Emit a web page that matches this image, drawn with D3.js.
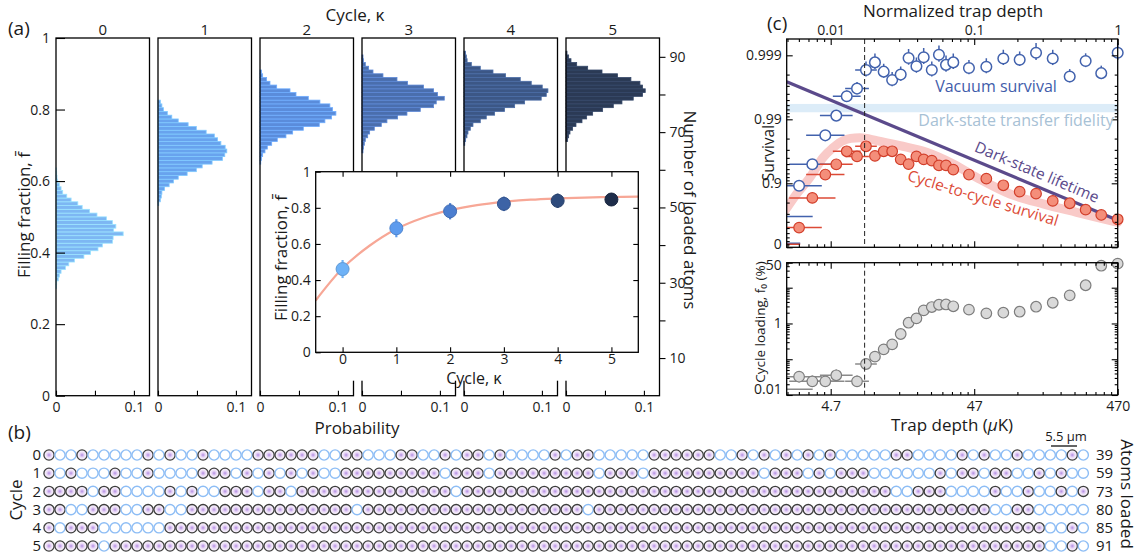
<!DOCTYPE html>
<html lang="en">
<head>
<meta charset="UTF-8" />
<title>Repeated loading of an atom array</title>
<script src="https://d3js.org/d3.v7.min.js"></script>
<style>
  body { margin: 0; background: #fff; }
  svg { display: block; font-family: "Open Sans", "DejaVu Sans", sans-serif; }
  .frame { fill: none; stroke: #000; stroke-width: 1.3; }
  text { fill: #1a1a1a; }
</style>
</head>
<body>
<script>
// ---------------- data: panel (a) ----------------
const cycles = [0, 1, 2, 3, 4, 5];
const nSites = 95;
// histograms of loaded atom number, first bin = histStart[k]
const histStart = [29, 51, 62, 65, 67, 68];
const hist0 = [0.0006, 0.0009, 0.003, 0.0043, 0.0065, 0.0121, 0.0164, 0.0237, 0.0358, 0.0444, 0.0539, 0.0595, 0.0724, 0.0733, 0.0862, 0.074, 0.0768, 0.0724, 0.0647, 0.0526, 0.0431, 0.0336, 0.028, 0.0194, 0.0138, 0.0086, 0.0065, 0.0043, 0.002, 0.0013, 0.0009, 0.0004];
const hist1 = [0.001, 0.003, 0.0042, 0.005, 0.0084, 0.0143, 0.0198, 0.026, 0.0374, 0.0492, 0.0567, 0.0694, 0.0828, 0.0857, 0.0883, 0.0862, 0.0807, 0.0765, 0.0723, 0.0618, 0.0492, 0.0387, 0.026, 0.0177, 0.012, 0.007, 0.005, 0.003];
const hist2 = [0.001, 0.002, 0.0034, 0.0064, 0.0094, 0.015, 0.0222, 0.0333, 0.0419, 0.0556, 0.0761, 0.0833, 0.0919, 0.0974, 0.0932, 0.0897, 0.0769, 0.062, 0.0462, 0.0385, 0.0214, 0.0128, 0.0085, 0.0034, 0.002];
const hist3 = [0.0013, 0.002, 0.003, 0.0043, 0.0073, 0.0098, 0.0158, 0.0248, 0.032, 0.0457, 0.0577, 0.0748, 0.0919, 0.0953, 0.1056, 0.097, 0.0919, 0.079, 0.0585, 0.0449, 0.0269, 0.0141, 0.0085, 0.0043, 0.002, 0.0013];
const hist4 = [0.001, 0.0021, 0.0038, 0.0051, 0.0081, 0.0115, 0.0209, 0.0286, 0.0393, 0.0521, 0.065, 0.0778, 0.0991, 0.1056, 0.1077, 0.1004, 0.0863, 0.0722, 0.0534, 0.0372, 0.0209, 0.0094, 0.004, 0.003, 0.002];
const hist5 = [0.0021, 0.0034, 0.0051, 0.0085, 0.0128, 0.0205, 0.0265, 0.0342, 0.047, 0.0607, 0.0718, 0.0863, 0.0983, 0.1017, 0.0983, 0.0949, 0.0833, 0.0662, 0.0462, 0.0278, 0.0137, 0.0064, 0.0034, 0.0013];
// inset: mean filling fraction per cycle and fit
const fillMean = [0.461, 0.687, 0.781, 0.822, 0.839, 0.846];
const fillErr = [0.05, 0.05, 0.045, 0.04, 0.04, 0.035];
const fitCycle = [-0.5, 0, 0.5, 1, 1.5, 2, 2.5, 3, 3.5, 4, 4.5, 5, 5.5];
const fitFill = [0.287, 0.465, 0.59, 0.683, 0.745, 0.787, 0.815, 0.833, 0.845, 0.852, 0.857, 0.86, 0.862];
const atomTicks = [10, 20, 30, 40, 50, 60, 70, 80, 90];

// ---------------- data: panel (b) ----------------
const occupancy = [
  "1001000001 0100100001 1111100110 0011001011 0100001011 0000011111 1001010101 0100000110 0001010010 00010",
  "1010001001 0000111010 1010100111 1111110111 0111111111 0111011111 1111101110 1011100000 0101101100 10100",
  "1111011000 0101001110 1101111111 1111111011 1111111111 1111111111 1111111111 1111111001 1100001001 00101",
  "1100111001 1001111111 1111111101 1111111111 1111111110 1111111111 1111111111 1111111111 1111110011 00000",
  "1011100000 0111111111 1111111111 1111111111 1111111111 1111111111 1111111111 1111111111 1111111111 10010",
  "1111101111 1111111111 1111111111 1111111111 1111111111 1111111111 1111111111 1111111111 1111111111 10010"
];
const atomsLoaded = [39, 59, 73, 80, 85, 91];

// ---------------- data: panel (c) ----------------
const depth = [2.83, 3.5, 4.31, 5.14, 6.08, 7.17, 8.28, 9.56, 11.0, 12.6, 14.45, 16.4, 18.6, 20.9, 23.8, 26.7, 29.9, 33.6, 43.2, 57.1, 75, 97.5, 126.8, 165.7, 217.6, 281, 361, 470];
const depthErr = [1.44, 1.45, 1.36, 1.3, 1.25, 1.21, 1.19, 1, 1, 1, 1, 1, 1, 1, 1, 1, 1, 1, 1, 1, 1, 1, 1, 1, 1, 1, 1, 1];
const vacuum = [0.891, 0.9495, 0.9822, 0.99125, 0.99564, 0.99669, 0.9983, 0.99871, 0.9982, 0.99757, 0.998, 0.9989, 0.99852, 0.99893, 0.9983, 0.99902, 0.99859, 0.99871, 0.99842, 0.99849, 0.99888, 0.99883, 0.99909, 0.99888, 0.99786, 0.99877, 0.9981, 0.99909];
const vacuumErr = [0, 0, 0, 0, 0.0008, 0.0007, 0.00045, 0.00035, 0.00045, 0.0006, 0.0005, 0.0003, 0.0004, 0.0003, 0.00045, 0.00028, 0.0004, 0.00035, 0.0004, 0.0004, 0.0003, 0.0003, 0.00027, 0.0003, 0.0005, 0.0003, 0.00045, 0.00027];
const cycleSurvival = [0.508, 0.831, 0.927, 0.9495, 0.9684, 0.962, 0.9736, 0.9627, 0.9684, 0.9684, 0.9578, 0.9499, 0.962, 0.9578, 0.9558, 0.9475, 0.9475, 0.9389, 0.927, 0.9155, 0.8926, 0.865, 0.855, 0.8116, 0.795, 0.742, 0.688, 0.635];
const loading = [0.0325, 0.0241, 0.0241, 0.0356, null, 0.0241, 0.0736, 0.118, 0.189, 0.261, 0.507, 1.05, 1.39, 2.33, 2.88, 3.34, 3.4, 3.02, 2.43, 1.92, 2.0, 2.13, 2.94, 3.8, 6.12, 11.7, 41.2, 46.9];
const loadingErr = [1.45, 1.45, 1.45, 1.45, 1, 1.45, 1, 1, 1, 1, 1, 1, 1, 1, 1, 1, 1, 1, 1, 1, 1, 1, 1, 1, 1, 1, 1, 1];
// points whose centres fall left of the axis (only their error bars show)
const edgeDepth = [2.2, 1.8];
const edgeVacuum = [0.669, 0.134];
const edgeCycle = [null, 0.103];
const edgeLoading = [0.0144, null];
const edgeErr = [1.6, 1.6];
// model curves
const lifetimeDepth = [2.32, 470];
const lifetimeSurvival = [0.99742, 0.6216];
const modelDepth = [2.26, 2.72, 3.37, 4.17, 4.78, 5.75, 7.52, 9.83, 14.3, 21.9, 33.6, 48.9, 83.5, 142, 243, 470];
const modelSurvival = [0.733, 0.853, 0.919, 0.9607, 0.971, 0.9785, 0.9805, 0.9785, 0.9742, 0.9672, 0.95, 0.919, 0.853, 0.79, 0.716, 0.593];
const fidelityBand = [0.99224, 0.99425];
const cutoffDepth = 8.1;
const maxDepth = 470;

// ---------------- setup ----------------
const W = 1141, H = 559;
const FONT = '"Open Sans", "DejaVu Sans", sans-serif';
const svg = d3.select('body').append('svg').attr('width', W).attr('height', H);

function addAxis(axisFn, scale, tx, ty, values, size, fmt, pad) {
  const axis = axisFn(scale).tickValues(values).tickSize(size)
    .tickPadding(pad == null ? 4 : pad).tickFormat(fmt || (() => ''));
  const g = svg.append('g').attr('transform', `translate(${tx},${ty})`).call(axis);
  g.select('.domain').remove();
  g.selectAll('line').attr('stroke', '#000').attr('stroke-width', 1.1);
  g.selectAll('text').attr('font-size', 14).attr('font-family', FONT).attr('fill', '#1a1a1a');
  return g;
}

function label(x, y, txt, size, opts) {
  opts = opts || {};
  const t = svg.append('text')
    .attr('transform', `translate(${x},${y})` + (opts.rotate ? ` rotate(${opts.rotate})` : ''))
    .attr('text-anchor', opts.anchor || 'middle')
    .attr('font-size', size)
    .attr('font-family', FONT)
    .text(txt);
  if (opts.fill) t.style('fill', opts.fill);
  if (opts.dy) t.attr('dy', opts.dy);
  return t;
}

// ---------------- panel (a): histograms ----------------
const fY = d3.scaleLinear().domain([0, 1]).range([395.7, 38]);
const nY = d3.scaleLinear().domain([0, nSites]).range([395.7, 38]);
const panelX = d3.scaleLinear().domain([0, 5]).range([56, 566]);
const panelW = 93.5;
const hists = [hist0, hist1, hist2, hist3, hist4, hist5];
const histColors = ['#7db7f3', '#68a3ee', '#5a8cdb', '#4a6ead', '#3c5786', '#2b3a55'];
const dotColors = ['#6eb2f7', '#5d9bee', '#4b7ed0', '#3d63a6', '#2e4b7c', '#1e2d4a'];

cycles.forEach((k, i) => {
  const x0 = panelX(k);
  const px = d3.scaleLinear().domain([0, 0.12]).range([x0, x0 + panelW]);
  const bins = hists[i].map((p, j) => ({ n: histStart[i] + j, p: p }));
  svg.append('g').selectAll('rect').data(bins).join('rect')
    .attr('x', x0)
    .attr('y', d => fY((d.n + 0.5) / nSites))
    .attr('width', d => px(d.p) - x0)
    .attr('height', d => fY((d.n - 0.5) / nSites) - fY((d.n + 0.5) / nSites))
    .attr('fill', histColors[i])
    .attr('stroke', d3.color(histColors[i]).brighter(0.6))
    .attr('stroke-width', 0.8);
  svg.append('rect').attr('class', 'frame')
    .attr('x', x0).attr('y', fY(1)).attr('width', panelW).attr('height', fY(0) - fY(1));
  label(x0 + panelW / 2, 35, k, 15);
  addAxis(d3.axisBottom, px, 0, fY(0), [0, 0.05, 0.1], -5,
    d => d === 0 ? '0' : d === 0.1 ? '0.1' : '', 6);
});

addAxis(d3.axisLeft, fY, panelX(0), 0, [0, 0.2, 0.4, 0.6, 0.8, 1], -9,
  d => d === 0 ? '0' : d === 1 ? '1' : d3.format('.1f')(d), 6);
addAxis(d3.axisRight, nY, panelX(5) + panelW, 0, atomTicks, 6,
  d => (d % 20 === 10 ? d : ''), 4);

label(8, 35, '(a)', 19, { anchor: 'start' });
label(355, 21, 'Cycle, κ', 17);
label(357, 434, 'Probability', 17);
label(24, 215, 'Filling fraction, f\u0304', 17, { rotate: -90, dy: '0.35em' });
label(690, 210, 'Number of loaded atoms', 17, { rotate: 90, dy: '0.35em' });

// ---------------- inset ----------------
const ix = d3.scaleLinear().domain([-0.5, 5.5]).range([315.7, 638.3]);
const iy = d3.scaleLinear().domain([0, 1]).range([352.3, 171.7]);
svg.append('rect').attr('x', 265).attr('y', 171.7).attr('width', 380).attr('height', 209).attr('fill', '#fff');

svg.append('path')
  .datum(fitCycle.map((c, i) => [c, fitFill[i]]))
  .attr('d', d3.line().x(d => ix(d[0])).y(d => iy(d[1])).curve(d3.curveCatmullRom))
  .attr('fill', 'none').attr('stroke', '#f7a796').attr('stroke-width', 2.2);

const inPts = svg.append('g').selectAll('g').data(cycles).join('g');
inPts.append('line')
  .attr('x1', d => ix(d)).attr('x2', d => ix(d))
  .attr('y1', (d, i) => iy(fillMean[i] - fillErr[i]))
  .attr('y2', (d, i) => iy(fillMean[i] + fillErr[i]))
  .attr('stroke', (d, i) => dotColors[i]).attr('stroke-width', 2.2);
inPts.append('circle')
  .attr('cx', d => ix(d)).attr('cy', (d, i) => iy(fillMean[i])).attr('r', 6.5)
  .attr('fill', (d, i) => dotColors[i])
  .attr('stroke', (d, i) => d3.color(dotColors[i]).darker(0.4)).attr('stroke-width', 1);

svg.append('rect').attr('class', 'frame')
  .attr('x', ix(-0.5)).attr('y', iy(1)).attr('width', ix(5.5) - ix(-0.5)).attr('height', iy(0) - iy(1));
addAxis(d3.axisLeft, iy, ix(-0.5), 0, [0, 0.2, 0.4, 0.6, 0.8, 1], -5,
  d => d === 0 ? '0' : d === 1 ? '1' : d3.format('.1f')(d), 5);
addAxis(d3.axisRight, iy, ix(5.5), 0, [0.2, 0.4, 0.6, 0.8], -5);
addAxis(d3.axisBottom, ix, 0, iy(0), cycles, -5, d => d, 2);
addAxis(d3.axisTop, ix, 0, iy(1), cycles, -5);
label(474, 384, 'Cycle, κ', 16);
label(281, 258, 'Filling fraction, f\u0304', 17, { rotate: -90, dy: '0.35em' });

// ---------------- panel (b): atom images ----------------
const defs = svg.append('defs');
const glow = defs.append('radialGradient').attr('id', 'atomGlow');
glow.append('stop').attr('offset', '0%').attr('stop-color', '#9560d8').attr('stop-opacity', 0.75);
glow.append('stop').attr('offset', '50%').attr('stop-color', '#d7b8ee').attr('stop-opacity', 0.5);
glow.append('stop').attr('offset', '100%').attr('stop-color', '#f8eefc').attr('stop-opacity', 0.35);

const siteX = d3.scaleLinear().domain([0, nSites - 1]).range([49, 1083.3]);
const rowY = d3.scalePoint().domain(cycles).range([455, 546]);

cycles.forEach((k, i) => {
  const sites = occupancy[i].replace(/ /g, '').split('').map((c, j) => ({ j: j, full: c === '1' }));
  svg.append('g').selectAll('circle').data(sites).join('circle')
    .attr('cx', d => siteX(d.j)).attr('cy', rowY(k)).attr('r', 5.1)
    .attr('fill', d => d.full ? 'url(#atomGlow)' : 'none')
    .attr('stroke', d => d.full ? '#3d3d3d' : '#8dbdf5')
    .attr('stroke-width', d => d.full ? 1.3 : 1.4);
  label(41, rowY(k), k, 15, { anchor: 'end', dy: '0.35em' });
  label(1096, rowY(k), atomsLoaded[i], 15, { anchor: 'start', dy: '0.35em' });
});
label(8, 439, '(b)', 19, { anchor: 'start' });
label(16, 500, 'Cycle', 17, { rotate: -90, dy: '0.35em' });
label(1127, 494, 'Atoms loaded', 17, { rotate: 90, dy: '0.35em' });
label(1066, 441, '5.5 μm', 13);
svg.append('line').attr('x1', 1051).attr('x2', 1077).attr('y1', 446).attr('y2', 446)
  .attr('stroke', '#222').attr('stroke-width', 1.4);

// ---------------- panel (c): survival and loading ----------------
const cL = 786.7, cR = 1117.7, tTop = 39, tBot = 247.3, bTop = 262.7, bBot = 395;
const cx = d3.scaleLog().domain([2.32, maxDepth]).range([cL, cR]);
const normX = d3.scaleLog().domain([2.32 / maxDepth, 1]).range([cL, cR]);
const yNine = d3.scaleLinear().domain([0, 3.255]).range([tBot, tTop]);
const nines = s => -Math.log10(1 - s);
const yS = s => yNine(nines(s));
const yL = d3.scaleLog().domain([0.01, 50]).range([bBot, bTop]);

defs.append('clipPath').attr('id', 'clipC')
  .append('rect').attr('x', cL).attr('y', 0).attr('width', W - cL).attr('height', H);
const plot = svg.append('g').attr('clip-path', 'url(#clipC)');

// fidelity band
plot.append('rect')
  .attr('x', cL).attr('width', cR - cL)
  .attr('y', yS(fidelityBand[1])).attr('height', yS(fidelityBand[0]) - yS(fidelityBand[1]))
  .attr('fill', '#dcecf8');
// cycle-to-cycle model band
plot.append('path')
  .datum(modelDepth.map((d, i) => [d, modelSurvival[i]]))
  .attr('d', d3.line().x(d => cx(d[0])).y(d => yS(d[1])).curve(d3.curveCatmullRom))
  .attr('fill', 'none').attr('stroke', '#f9cac8').attr('stroke-width', 9).attr('stroke-linecap', 'round');
// dark-state lifetime
plot.append('path')
  .datum(lifetimeDepth.map((d, i) => [d, lifetimeSurvival[i]]))
  .attr('d', d3.line().x(d => cx(d[0])).y(d => yS(d[1])))
  .attr('fill', 'none').attr('stroke', '#5b4a8b').attr('stroke-width', 3.2);
// cutoff
[[tTop, tBot], [bTop, bBot]].forEach(r => {
  svg.append('line').attr('x1', cx(cutoffDepth)).attr('x2', cx(cutoffDepth))
    .attr('y1', r[0]).attr('y2', r[1])
    .attr('stroke', '#222').attr('stroke-width', 1).attr('stroke-dasharray', '5,3');
});

function hBars(xs, ys, errs, yFn, color) {
  plot.append('g').selectAll('line')
    .data(xs.map((d, i) => ({ d: d, v: ys[i], e: errs[i] })).filter(p => p.v != null && p.e > 1))
    .join('line')
    .attr('x1', p => cx(p.d / p.e)).attr('x2', p => cx(p.d * p.e))
    .attr('y1', p => yFn(p.v)).attr('y2', p => yFn(p.v))
    .attr('stroke', color).attr('stroke-width', 1.5);
}

const blue = '#4262ad', red = '#dc4a36', grey = '#8a8a8a';
hBars(depth, vacuum, depthErr, yS, blue);
hBars(edgeDepth, edgeVacuum, edgeErr, yS, blue);
hBars(depth, cycleSurvival, depthErr, yS, red);
hBars(edgeDepth, edgeCycle, edgeErr, yS, red);
hBars(depth, loading, depthErr, yL, grey);
hBars(edgeDepth, edgeLoading, edgeErr, yL, grey);

// vertical error bars
plot.append('g').selectAll('line')
  .data(depth.map((d, i) => ({ d: d, v: vacuum[i], e: vacuumErr[i] })).filter(p => p.e > 0))
  .join('line')
  .attr('x1', p => cx(p.d)).attr('x2', p => cx(p.d))
  .attr('y1', p => yS(p.v - p.e)).attr('y2', p => yS(p.v + p.e))
  .attr('stroke', blue).attr('stroke-width', 1.5);
plot.append('g').selectAll('line')
  .data(depth.map((d, i) => ({ d: d, v: loading[i], e: loadingErr[i] })).filter(p => p.v != null && p.e > 1))
  .join('line')
  .attr('x1', p => cx(p.d)).attr('x2', p => cx(p.d))
  .attr('y1', p => yL(p.v / p.e)).attr('y2', p => yL(p.v * p.e))
  .attr('stroke', grey).attr('stroke-width', 1.5);

// markers
plot.append('g').selectAll('circle').data(depth).join('circle')
  .attr('cx', d => cx(d)).attr('cy', (d, i) => yS(vacuum[i])).attr('r', 5.3)
  .attr('fill', '#fff').attr('stroke', blue).attr('stroke-width', 1.5);
plot.append('g').selectAll('circle').data(depth).join('circle')
  .attr('cx', d => cx(d)).attr('cy', (d, i) => yS(cycleSurvival[i])).attr('r', 5.3)
  .attr('fill', '#f48e7a').attr('stroke', '#d23f2b').attr('stroke-width', 1.2);
plot.append('g').selectAll('circle')
  .data(depth.map((d, i) => ({ d: d, v: loading[i] })).filter(p => p.v != null)).join('circle')
  .attr('cx', p => cx(p.d)).attr('cy', p => yL(p.v)).attr('r', 5.3)
  .attr('fill', '#d9d9d9').attr('stroke', '#7d7d7d').attr('stroke-width', 1.2);

// frames
svg.append('rect').attr('class', 'frame').attr('x', cL).attr('y', tTop).attr('width', cR - cL).attr('height', tBot - tTop);
svg.append('rect').attr('class', 'frame').attr('x', cL).attr('y', bTop).attr('width', cR - cL).attr('height', bBot - bTop);

// x ticks (normalised depth), mirrored on every edge
const isDecade = d => Math.abs(Math.log10(d) - Math.round(Math.log10(d))) < 1e-6;
const normTicks = normX.ticks();
const normMajor = normTicks.filter(isDecade);
const normMinor = normTicks.filter(d => !isDecade(d));
addAxis(d3.axisTop, normX, 0, tTop, normMajor, -6, d => d3.format('~g')(d), 4);
addAxis(d3.axisTop, normX, 0, tTop, normMinor, -3);
addAxis(d3.axisBottom, normX, 0, tBot, normMajor, -6);
addAxis(d3.axisBottom, normX, 0, tBot, normMinor, -3);
addAxis(d3.axisTop, normX, 0, bTop, normMajor, -6);
addAxis(d3.axisTop, normX, 0, bTop, normMinor, -3);
addAxis(d3.axisBottom, normX, 0, bBot, normMajor, -6, d => d3.format('.3~g')(d * maxDepth), 6);
addAxis(d3.axisBottom, normX, 0, bBot, normMinor, -3);

// survival ticks
const survMajor = [0, 1, 2, 3];
const survLabels = ['0', '0.9', '0.99', '0.999'];
const survMinor = [0.1, 0.2, 0.3, 0.4, 0.5, 0.6, 0.7, 0.8,
  0.91, 0.92, 0.93, 0.94, 0.95, 0.96, 0.97, 0.98,
  0.991, 0.992, 0.993, 0.994, 0.995, 0.996, 0.997, 0.998].map(nines);
const gSurv = addAxis(d3.axisLeft, yNine, cL, 0, survMajor, -6, d => survLabels[d], 5);
gSurv.selectAll('text').filter(d => d === 0).attr('dy', '0.1em');
addAxis(d3.axisLeft, yNine, cL, 0, survMinor, -3);
addAxis(d3.axisRight, yNine, cR, 0, survMajor, -6);
addAxis(d3.axisRight, yNine, cR, 0, survMinor, -3);

// loading ticks
const loadMajor = [0.01, 0.1, 1, 10, 50];
const loadMinor = yL.ticks().filter(d => !isDecade(d) && d < 50);
const gLoad = addAxis(d3.axisLeft, yL, cL, 0, loadMajor, -6, d => (d === 0.1 || d === 10) ? '' : d3.format('~g')(d), 5);
gLoad.selectAll('text').filter(d => d === 0.01).attr('dy', '-0.1em');
gLoad.selectAll('text').filter(d => d === 50).attr('dy', '0.5em');
addAxis(d3.axisLeft, yL, cL, 0, loadMinor, -3);
addAxis(d3.axisRight, yL, cR, 0, loadMajor, -6);
addAxis(d3.axisRight, yL, cR, 0, loadMinor, -3);

// labels
label(767, 30, '(c)', 19, { anchor: 'start' });
label(953, 17, 'Normalized trap depth', 17);
const td = label(952, 431, 'Trap depth (', 17);
td.append('tspan').attr('font-style', 'italic').text('μ');
td.append('tspan').text('K)');
label(769, 153, 'Survival', 15.5, { rotate: -90, dy: '0.35em' });
label(760, 322, 'Cycle loading, f₀ (%)', 13.5, { rotate: -90, dy: '0.35em' });
label(996, 92, 'Vacuum survival', 16, { fill: '#3f5caa' });
label(1016, 126, 'Dark-state transfer fidelity', 16, { fill: '#a7c1d5' });
label(1037, 172, 'Dark-state lifetime', 15.5, { fill: '#5b4a8b', rotate: 23, dy: '0.35em' });
label(983, 198, 'Cycle-to-cycle survival', 15.5, { fill: '#dc4a36', rotate: 17, dy: '0.35em' });
</script>
</body>
</html>
